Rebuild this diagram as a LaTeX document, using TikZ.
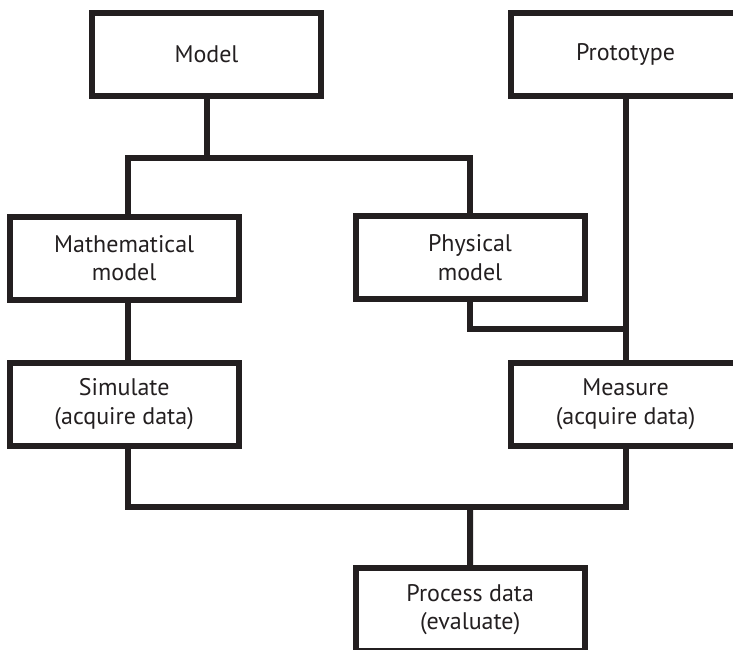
\documentclass[tikz,border=0pt]{standalone}
\usepackage{fontspec}
\setmainfont{PT Sans}
\definecolor{ink}{HTML}{231F20}
\begin{document}
\begin{tikzpicture}[x=1pt,y=-1pt,
  box/.style={draw=ink, line width=6pt, minimum width=229pt, minimum height=83pt,
    inner sep=0pt, align=center, text=ink, font=\fontsize{24}{28.5}\selectfont},
  wire/.style={draw=ink, line width=6pt}]
\useasboundingbox (0,0) rectangle (733,649);
\clip (0,0) rectangle (733,649);

% boxes
\node[box] (model) at (206.5,54.5)  {Model};
\node[box] (proto) at (625.5,54.5)  {Prototype};
\node[box] (math)  at (124.2,258)   {Mathematical\\model};
\node[box] (phys)  at (470,257.5)   {Physical\\model};
\node[box] (sim)   at (124.2,404.2) {Simulate\\(acquire data)};
\node[box] (meas)  at (625.5,404.2) {Measure\\(acquire data)};
\node[box] (proc)  at (470.2,609.5) {Process data\\(evaluate)};

% branch and merge points
\coordinate (split) at (206.5,157.5);
\coordinate (merge) at (625.5,329);
\coordinate (join)  at (470,506.5);

% connectors
\draw[wire] (model.south) -- (split);
\draw[wire] ([xshift=3.3pt]math.north) |- (split) -| (phys.north);
\draw[wire] ([xshift=3.3pt]math.south) -- ([xshift=3.3pt]sim.north);
\draw[wire] (proto.south) -- (meas.north);
\draw[wire] (phys.south) |- (merge);
\draw[wire] ([xshift=3.3pt]sim.south) |- (join) -| (meas.south);
\draw[wire] (join) -- (proc.north);
\end{tikzpicture}
\end{document}
